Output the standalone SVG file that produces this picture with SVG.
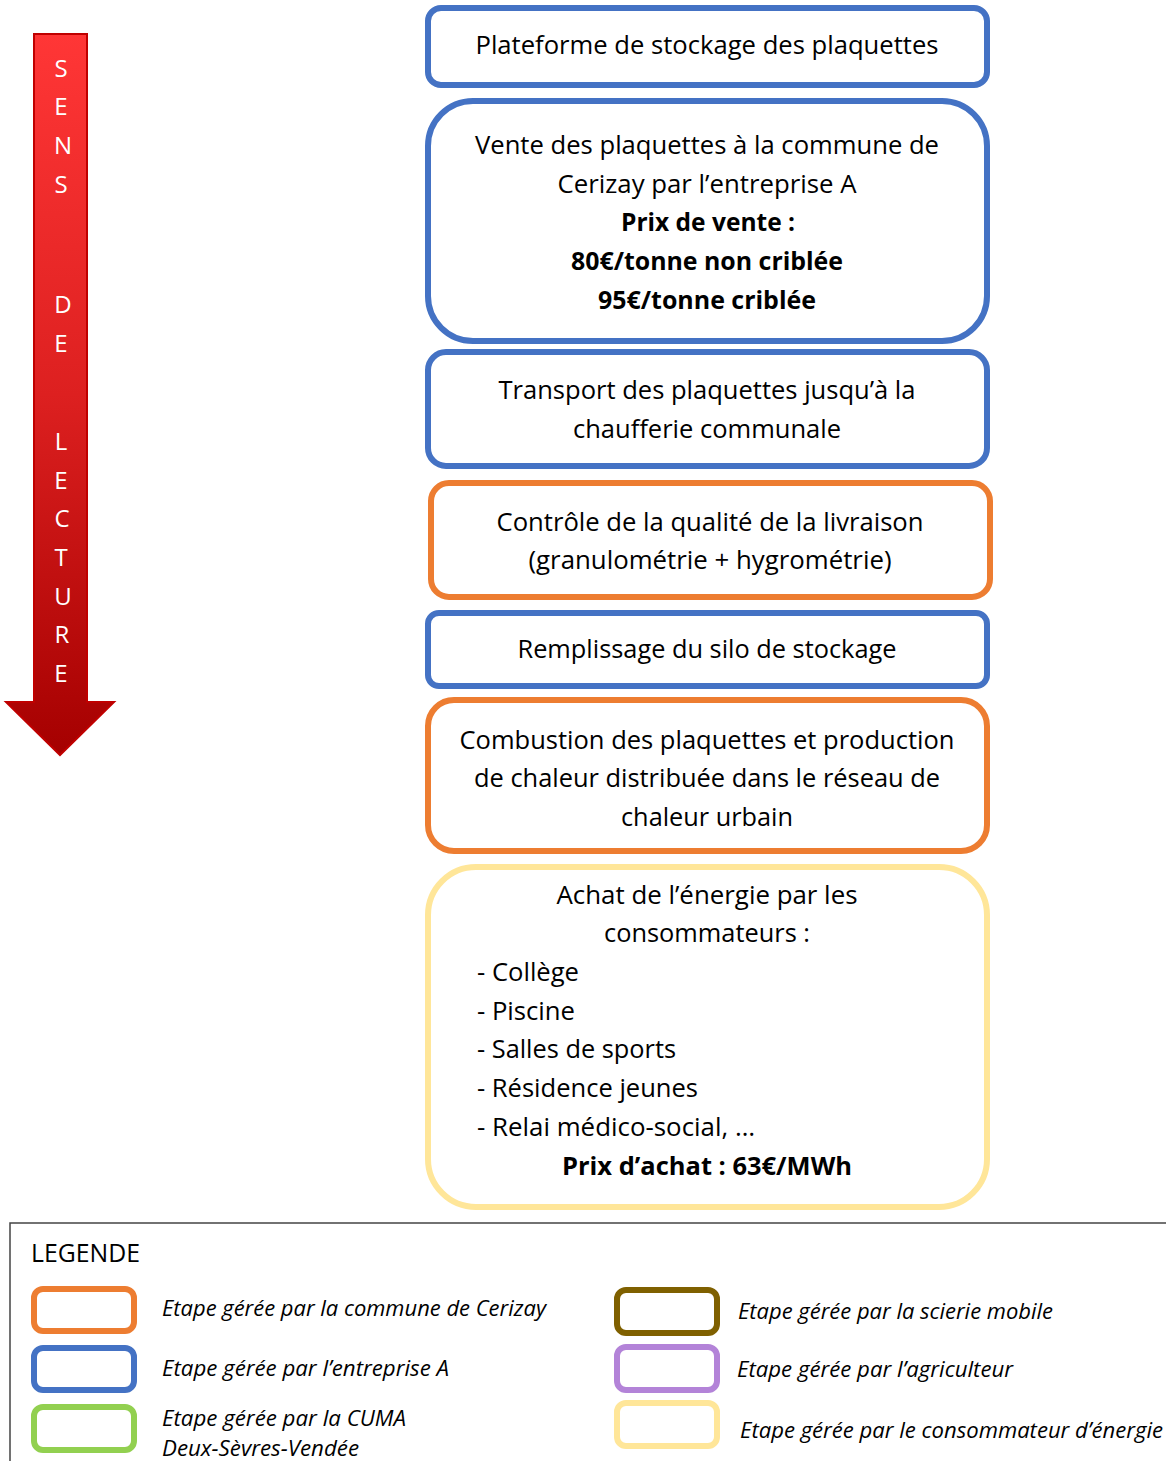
<svg xmlns="http://www.w3.org/2000/svg" width="1166" height="1461" viewBox="0 0 1166 1461">
<defs>
<linearGradient id="red" x1="0" y1="0" x2="0" y2="1">
<stop offset="0" stop-color="#FF3636"/>
<stop offset="0.5" stop-color="#DD2020"/>
<stop offset="1" stop-color="#A50000"/>
</linearGradient>
</defs>
<style>
text{font-family:"Open Sans","Liberation Sans",sans-serif;fill:#000}
.t{font-size:25px;text-anchor:middle}
.tl{font-size:25px}
.b{font-weight:bold}
.arr{font-size:24px;fill:#fff;text-anchor:middle}
.lg{font-size:22px;font-style:italic}
.blue{fill:#fff;stroke:#4472C4;stroke-width:6}
.orange{fill:#fff;stroke:#ED7D31;stroke-width:6}
.yellow{fill:#fff;stroke:#FFE699;stroke-width:6}
.sw{fill:#fff;stroke-width:6}
</style>
<rect width="1166" height="1461" fill="#fff"/>

<g id="arrow">
<path d="M34,34 H87 V702 H114 L60,755 L6,702 H34 Z" fill="url(#red)" stroke="#C00000" stroke-width="2"/>
<text class="arr" x="61" y="77">S</text>
<text class="arr" x="61" y="115">E</text>
<text class="arr" x="63" y="154">N</text>
<text class="arr" x="61" y="193">S</text>
<text class="arr" x="63" y="313">D</text>
<text class="arr" x="61" y="352">E</text>
<text class="arr" x="61" y="450">L</text>
<text class="arr" x="61" y="489">E</text>
<text class="arr" x="62" y="527">C</text>
<text class="arr" x="61" y="566">T</text>
<text class="arr" x="63" y="605">U</text>
<text class="arr" x="62" y="643">R</text>
<text class="arr" x="61" y="682">E</text>
</g>

<g id="connectors"></g>

<g id="n1">
<rect class="blue" x="428" y="8" width="559" height="77" rx="13"/>
<text class="t" x="707" y="54" textLength="463" lengthAdjust="spacingAndGlyphs">Plateforme de stockage des plaquettes</text>
</g>

<g id="n2">
<rect class="blue" x="428" y="101" width="559" height="240" rx="45"/>
<text class="t" x="707" y="154" textLength="464" lengthAdjust="spacingAndGlyphs">Vente des plaquettes à la commune de</text>
<text class="t" x="707" y="193" textLength="299" lengthAdjust="spacingAndGlyphs">Cerizay par l’entreprise A</text>
<text class="t b" x="708" y="231" textLength="174" lengthAdjust="spacingAndGlyphs">Prix de vente :</text>
<text class="t b" x="707" y="270" textLength="272" lengthAdjust="spacingAndGlyphs">80€/tonne non criblée</text>
<text class="t b" x="707" y="309" textLength="218" lengthAdjust="spacingAndGlyphs">95€/tonne criblée</text>
</g>

<g id="n3">
<rect class="blue" x="428" y="352" width="559" height="114" rx="18"/>
<text class="t" x="707" y="399" textLength="417" lengthAdjust="spacingAndGlyphs">Transport des plaquettes jusqu’à la</text>
<text class="t" x="707" y="438" textLength="268" lengthAdjust="spacingAndGlyphs">chaufferie communale</text>
</g>

<g id="n4">
<rect class="orange" x="431" y="483" width="559" height="114" rx="18"/>
<text class="t" x="710" y="531" textLength="427" lengthAdjust="spacingAndGlyphs">Contrôle de la qualité de la livraison</text>
<text class="t" x="710" y="569" textLength="363" lengthAdjust="spacingAndGlyphs">(granulométrie + hygrométrie)</text>
</g>

<g id="n5">
<rect class="blue" x="428" y="613" width="559" height="73" rx="11"/>
<text class="t" x="707" y="658" textLength="379" lengthAdjust="spacingAndGlyphs">Remplissage du silo de stockage</text>
</g>

<g id="n6">
<rect class="orange" x="428" y="700" width="559" height="151" rx="26"/>
<text class="t" x="707" y="749" textLength="495" lengthAdjust="spacingAndGlyphs">Combustion des plaquettes et production</text>
<text class="t" x="707" y="787" textLength="466" lengthAdjust="spacingAndGlyphs">de chaleur distribuée dans le réseau de</text>
<text class="t" x="707" y="826" textLength="172" lengthAdjust="spacingAndGlyphs">chaleur urbain</text>
</g>

<g id="n7">
<rect class="yellow" x="428" y="867" width="559" height="340" rx="48"/>
<text class="t" x="707" y="904" textLength="301" lengthAdjust="spacingAndGlyphs">Achat de l’énergie par les</text>
<text class="t" x="707" y="942" textLength="206" lengthAdjust="spacingAndGlyphs">consommateurs :</text>
<text class="tl" x="477" y="981" textLength="102" lengthAdjust="spacingAndGlyphs">- Collège</text>
<text class="tl" x="477" y="1020" textLength="98" lengthAdjust="spacingAndGlyphs">- Piscine</text>
<text class="tl" x="477" y="1058" textLength="199" lengthAdjust="spacingAndGlyphs">- Salles de sports</text>
<text class="tl" x="477" y="1097" textLength="221" lengthAdjust="spacingAndGlyphs">- Résidence jeunes</text>
<text class="tl" x="477" y="1136" textLength="278" lengthAdjust="spacingAndGlyphs">- Relai médico-social, …</text>
<text class="t b" x="707" y="1175" textLength="290" lengthAdjust="spacingAndGlyphs">Prix d’achat : 63€/MWh</text>
</g>

<g id="legend">
<rect x="10" y="1223" width="1170" height="260" fill="none" stroke="#444" stroke-width="1.5"/>
<text class="tl" x="31" y="1262" textLength="109" lengthAdjust="spacingAndGlyphs">LEGENDE</text>
<rect class="sw" x="34" y="1289" width="100" height="42" rx="9" stroke="#ED7D31"/>
<rect class="sw" x="34" y="1348" width="100" height="42" rx="9" stroke="#4472C4"/>
<rect class="sw" x="34" y="1407" width="100" height="43" rx="9" stroke="#92D050"/>
<rect class="sw" x="617" y="1290" width="100" height="43" rx="9" stroke="#7F6000"/>
<rect class="sw" x="617" y="1347" width="100" height="43" rx="9" stroke="#B383D8"/>
<rect class="sw" x="617" y="1403" width="100" height="43" rx="9" stroke="#FFE699"/>
<text class="lg" x="162" y="1316" textLength="384" lengthAdjust="spacingAndGlyphs">Etape gérée par la commune de Cerizay</text>
<text class="lg" x="162" y="1376" textLength="287" lengthAdjust="spacingAndGlyphs">Etape gérée par l’entreprise A</text>
<text class="lg" x="162" y="1426" textLength="244" lengthAdjust="spacingAndGlyphs">Etape gérée par la CUMA</text>
<text class="lg" x="162" y="1456" textLength="197" lengthAdjust="spacingAndGlyphs">Deux-Sèvres-Vendée</text>
<text class="lg" x="738" y="1319" textLength="315" lengthAdjust="spacingAndGlyphs">Etape gérée par la scierie mobile</text>
<text class="lg" x="737" y="1377" textLength="276" lengthAdjust="spacingAndGlyphs">Etape gérée par l’agriculteur</text>
<text class="lg" x="740" y="1438" textLength="423" lengthAdjust="spacingAndGlyphs">Etape gérée par le consommateur d’énergie</text>
</g>
</svg>
